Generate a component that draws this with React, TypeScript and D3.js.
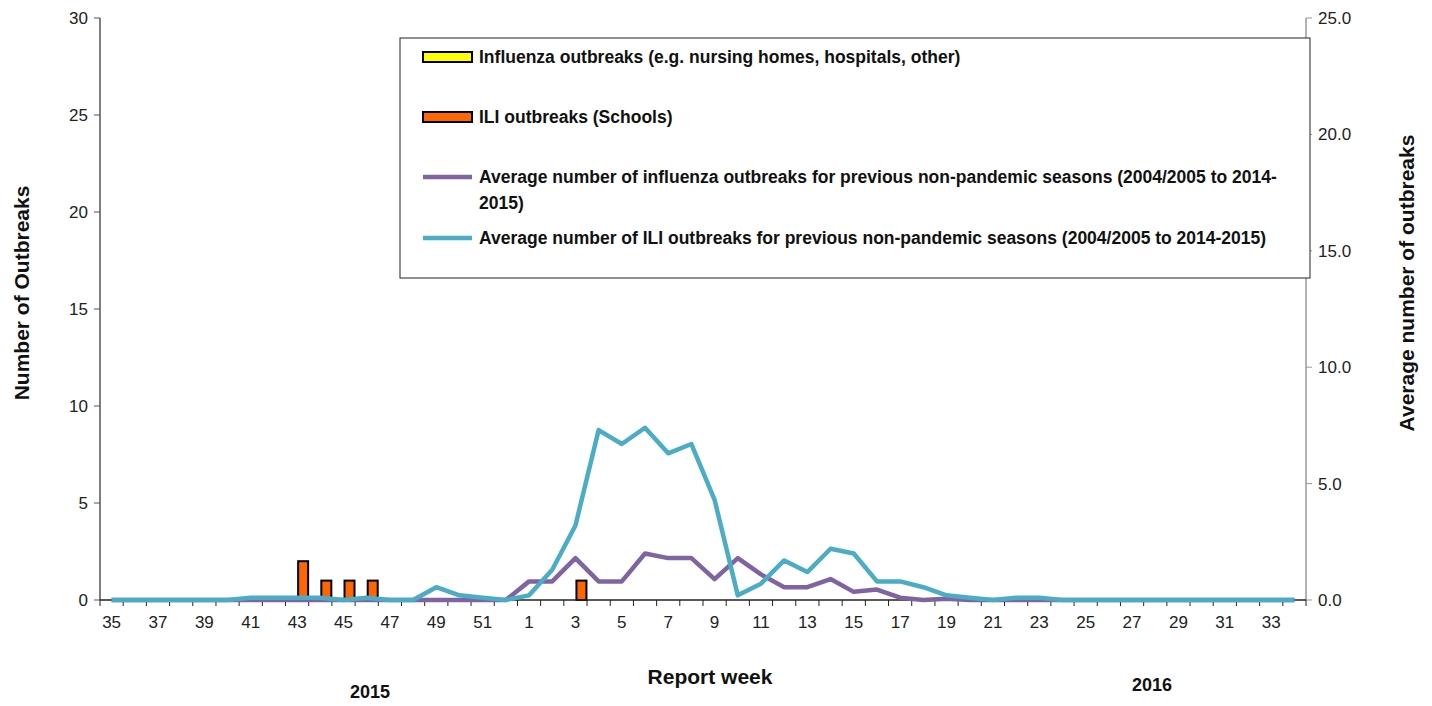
import React from 'react'
import * as d3 from 'd3'

const weeks = [
  35, 36, 37, 38, 39, 40, 41, 42, 43, 44, 45, 46, 47, 48, 49, 50, 51, 52,
  1, 2, 3, 4, 5, 6, 7, 8, 9, 10, 11, 12, 13, 14, 15, 16, 17, 18, 19, 20,
  21, 22, 23, 24, 25, 26, 27, 28, 29, 30, 31, 32, 33, 34,
].map(String)

const fluOutbreaks: number[] = weeks.map(() => 0)
const iliOutbreaks = [
  0, 0, 0, 0, 0, 0, 0, 0, 2, 1, 1, 1, 0, 0, 0, 0, 0, 0,
  0, 0, 1, 0, 0, 0, 0, 0, 0, 0, 0, 0, 0, 0, 0, 0, 0, 0, 0, 0,
  0, 0, 0, 0, 0, 0, 0, 0, 0, 0, 0, 0, 0, 0,
]
const avgFlu = [
  0, 0, 0, 0, 0, 0, 0, 0, 0, 0, 0, 0, 0, 0, 0, 0, 0, 0,
  0.8, 0.8, 1.8, 0.8, 0.8, 2.0, 1.8, 1.8, 0.9, 1.8, 1.1, 0.55, 0.55, 0.9, 0.35, 0.45, 0.1, 0, 0.05, 0,
  0, 0, 0, 0, 0, 0, 0, 0, 0, 0, 0, 0, 0, 0,
]
const avgIli = [
  0, 0, 0, 0, 0, 0, 0.1, 0.1, 0.1, 0.1, 0, 0.1, 0, 0, 0.55, 0.2, 0.1, 0,
  0.2, 1.3, 3.2, 7.3, 6.7, 7.4, 6.3, 6.7, 4.3, 0.2, 0.7, 1.7, 1.2, 2.2, 2.0, 0.8, 0.8, 0.55, 0.2, 0.1,
  0, 0.1, 0.1, 0, 0, 0, 0, 0, 0, 0, 0, 0, 0, 0,
]
const leftTicks = [0, 5, 10, 15, 20, 25, 30]
const rightTicks = [0, 5, 10, 15, 20, 25]

const FONT = '"Liberation Sans Narrow", "Arial Narrow", "Liberation Sans", sans-serif'
const PURPLE = '#8064a2'
const CYAN = '#4bacc6'

export default function App() {
  const left = 100, right = 1306, top = 18, bottom = 600
  const x = d3.scaleBand().domain(weeks).range([left, right])
  const yL = d3.scaleLinear().domain([0, 30]).range([bottom, top])
  const yR = d3.scaleLinear().domain([0, 25]).range([bottom, top])
  const barW = 10
  const line = (vals: number[]) =>
    d3.line<number>().x((_, i) => x(weeks[i])! + x.bandwidth() / 2).y(d => yR(d))(vals)!

  const legend = [
    { type: 'bar', fill: '#ffff00', y: 57, lines: ['Influenza outbreaks (e.g. nursing homes, hospitals, other)'] },
    { type: 'bar', fill: '#ff6600', y: 117, lines: ['ILI outbreaks (Schools)'] },
    { type: 'line', fill: PURPLE, y: 177, lines: ['Average number of influenza outbreaks for previous non-pandemic seasons (2004/2005 to 2014-', '2015)'] },
    { type: 'line', fill: CYAN, y: 238, lines: ['Average number of ILI outbreaks for previous non-pandemic seasons (2004/2005 to 2014-2015)'] },
  ]

  return (
    <svg width={1432} height={706} style={{ position: 'absolute', left: 0, top: 0, fontFamily: FONT }}>
      <rect width={1432} height={706} fill="#fff" />
      {/* left axis */}
      <line x1={left} x2={left} y1={top} y2={bottom} stroke="#555" strokeWidth={1.5} />
      {leftTicks.map(t => (
        <g key={t}>
          <line x1={left - 6} x2={left} y1={yL(t)} y2={yL(t)} stroke="#555" />
          <text x={left - 12} y={yL(t)} dy="0.35em" textAnchor="end" fontSize={17} fill="#222">{t}</text>
        </g>
      ))}
      {/* right axis */}
      <line x1={right} x2={right} y1={top} y2={bottom} stroke="#999" strokeWidth={1.5} />
      {rightTicks.map(t => (
        <g key={t}>
          <line x1={right} x2={right + 6} y1={yR(t)} y2={yR(t)} stroke="#999" />
          <text x={right + 12} y={yR(t)} dy="0.35em" textAnchor="start" fontSize={17} fill="#222">{t.toFixed(1)}</text>
        </g>
      ))}
      {/* bars */}
      {weeks.map((w, i) => (
        <g key={w}>
          {fluOutbreaks[i] > 0 && (
            <rect x={x(w)! + x.bandwidth() / 2 - barW} y={yL(fluOutbreaks[i])} width={barW} height={bottom - yL(fluOutbreaks[i])} fill="#ffff00" stroke="#000" strokeWidth={2} />
          )}
          {iliOutbreaks[i] > 0 && (
            <rect x={x(w)! + x.bandwidth() / 2 + 1} y={yL(iliOutbreaks[i])} width={barW} height={bottom - yL(iliOutbreaks[i])} fill="#ff6600" stroke="#000" strokeWidth={2} />
          )}
        </g>
      ))}
      {/* x axis */}
      <line x1={left} x2={right} y1={bottom} y2={bottom} stroke="#222" strokeWidth={1.5} />
      {weeks.map((w, i) => (
        <g key={w}>
          <line x1={x(w)!} x2={x(w)!} y1={bottom} y2={bottom + 6} stroke="#222" />
          {i % 2 === 0 && (
            <text x={x(w)! + x.bandwidth() / 2} y={bottom + 28} textAnchor="middle" fontSize={17} fill="#222">{w}</text>
          )}
        </g>
      ))}
      <line x1={right} x2={right} y1={bottom} y2={bottom + 6} stroke="#222" />
      {/* lines */}
      <path d={line(avgFlu)} fill="none" stroke={PURPLE} strokeWidth={4.5} strokeLinejoin="round" />
      <path d={line(avgIli)} fill="none" stroke={CYAN} strokeWidth={4.5} strokeLinejoin="round" />
      {/* legend */}
      <rect x={400} y={38} width={910} height={240} fill="#fff" stroke="#222" strokeWidth={1} />
      {legend.map(l => (
        <g key={l.y}>
          {l.type === 'bar'
            ? <rect x={423} y={l.y - 5} width={49} height={10} fill={l.fill} stroke="#000" strokeWidth={2} />
            : <line x1={423} x2={472} y1={l.y} y2={l.y} stroke={l.fill} strokeWidth={4.5} />}
          {l.lines.map((s, k) => (
            <text key={k} x={479} y={l.y + k * 26} dy="0.35em" fontSize={17.5} fontWeight="bold" fill="#111">{s}</text>
          ))}
        </g>
      ))}
      {/* titles */}
      <text transform="translate(29,293) rotate(-90)" textAnchor="middle" fontSize={21} fontWeight="bold" fill="#111">Number of Outbreaks</text>
      <text transform="translate(1414,283) rotate(-90)" textAnchor="middle" fontSize={21} fontWeight="bold" fill="#111">Average number of outbreaks</text>
      <text x={710} y={684} textAnchor="middle" fontSize={21} fontWeight="bold" fill="#111">Report week</text>
      <text x={370} y={698} textAnchor="middle" fontSize={18} fontWeight="bold" fill="#111">2015</text>
      <text x={1152} y={691} textAnchor="middle" fontSize={18} fontWeight="bold" fill="#111">2016</text>
    </svg>
  )
}
